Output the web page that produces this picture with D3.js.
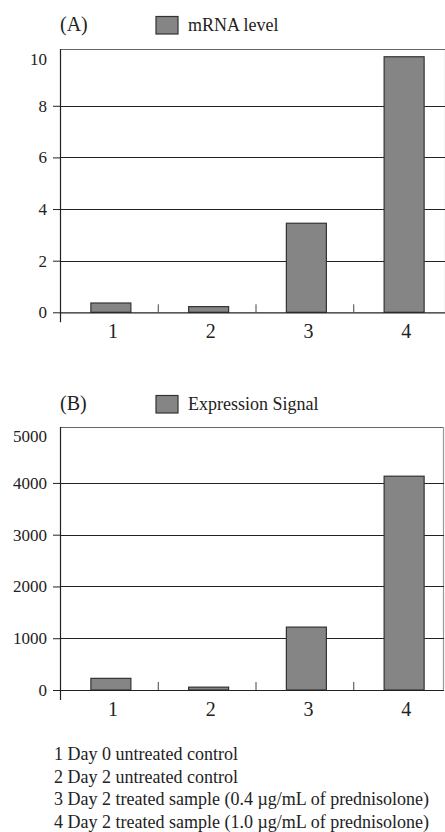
<!DOCTYPE html>
<html>
<head>
<meta charset="utf-8">
<script src="https://cdn.jsdelivr.net/npm/d3@7"></script>
<style>
  html, body { margin: 0; padding: 0; background: #fff; }
  svg { display: block; }
</style>
</head>
<body>
<svg id="chart" width="445" height="832"></svg>
<script>
// ---- data ----
const categories = ["1", "2", "3", "4"];
const mrnaValues = [0.36, 0.22, 3.45, 9.9];
const signalValues = [225, 55, 1215, 4130];
const mrnaTicks = [0, 2, 4, 6, 8, 10];
const signalTicks = [0, 1000, 2000, 3000, 4000, 5000];
const panelLabels = ["(A)", "(B)"];
const seriesNames = ["mRNA level", "Expression Signal"];
const sampleNotes = [
  "1 Day 0 untreated control",
  "2 Day 2 untreated control",
  "3 Day 2 treated sample (0.4 \u00b5g/mL of prednisolone)",
  "4 Day 2 treated sample (1.0 \u00b5g/mL of prednisolone)"
];

const FONT = "Liberation Serif";
const svg = d3.select("#chart");
const barFill = "#858585";
const barStroke = "#333";

function panel(cfg) {
  const g = svg.append("g");
  const x = d3.scaleBand().domain(categories).range([cfg.left, cfg.right]).paddingInner(0).paddingOuter(0);
  const y = d3.scaleLinear().domain([0, cfg.max]).range([cfg.bottom, cfg.top]);

  // frame top & right
  g.append("line").attr("x1", cfg.left).attr("x2", cfg.frameRight)
    .attr("y1", cfg.top + 0.5).attr("y2", cfg.top + 0.5)
    .attr("stroke", "#666").attr("stroke-width", 1.2);
  g.append("line").attr("x1", cfg.frameRight - 0.5).attr("x2", cfg.frameRight - 0.5)
    .attr("y1", cfg.top).attr("y2", y(0))
    .attr("stroke", "#999").attr("stroke-width", 1.2);

  // gridlines
  g.selectAll(".grid").data(cfg.ticks.filter(t => t > 0 && t < cfg.ticks[cfg.ticks.length - 1]))
    .enter().append("line")
    .attr("x1", cfg.left).attr("x2", cfg.frameRight)
    .attr("y1", d => Math.round(y(d)) + 0.5).attr("y2", d => Math.round(y(d)) + 0.5)
    .attr("stroke", "#222").attr("stroke-width", 1);

  // bars
  const bw = 40;
  g.selectAll(".bar").data(cfg.values).enter().append("rect")
    .attr("x", (d, i) => x.bandwidth() / 2 + x(categories[i]) - bw / 2 + 2)
    .attr("y", d => y(d))
    .attr("width", bw)
    .attr("height", d => y(0) - y(d))
    .attr("fill", barFill).attr("stroke", barStroke).attr("stroke-width", 1.2);

  // y axis
  const yAxis = d3.axisLeft(y).tickValues(cfg.ticks).tickSize(7).tickPadding(6).tickFormat(d3.format("d"));
  const ya = g.append("g").attr("transform", `translate(${cfg.left},0)`).call(yAxis);
  ya.attr("font-family", null);
  ya.select(".domain").remove();
  ya.selectAll(".tick line").attr("stroke", "#222");
  ya.selectAll(".tick").filter(d => d === cfg.ticks[cfg.ticks.length - 1]).select("line").remove();
  ya.selectAll(".tick text").attr("font-size", 17);
  ya.selectAll(".tick").filter(d => d === cfg.ticks[cfg.ticks.length - 1]).select("text")
    .attr("y", cfg.topLabelShift);

  // y axis line
  g.append("line").attr("x1", cfg.left + 0.5).attr("x2", cfg.left + 0.5)
    .attr("y1", cfg.top).attr("y2", y(0) + 10).attr("stroke", "#222").attr("stroke-width", 1.2);
  // x axis line
  g.append("line").attr("x1", cfg.left).attr("x2", cfg.frameRight)
    .attr("y1", y(0) + 0.5).attr("y2", y(0) + 0.5).attr("stroke", "#222").attr("stroke-width", 1.2);
  // category boundary ticks
  g.selectAll(".xt").data(categories.slice(1)).enter().append("line")
    .attr("x1", d => x(d) + 0.5).attr("x2", d => x(d) + 0.5)
    .attr("y1", y(0) - 8).attr("y2", y(0)).attr("stroke", "#444").attr("stroke-width", 1);

  // x labels
  g.selectAll(".xl").data(categories).enter().append("text")
    .attr("x", d => x(d) + x.bandwidth() / 2 + 4)
    .attr("y", y(0) + 26)
    .attr("text-anchor", "middle").attr("font-size", 20)
    .text(d => d);

  // panel label & legend
  g.append("text").attr("x", 60).attr("y", cfg.legendY).attr("font-size", 20).text(cfg.panelLabel);
  g.append("rect").attr("x", 156).attr("y", cfg.legendY - 14.5).attr("width", 22).attr("height", 17.5)
    .attr("fill", barFill).attr("stroke", barStroke).attr("stroke-width", 1.2);
  g.append("text").attr("x", 188).attr("y", cfg.legendY).attr("font-size", 18).text(cfg.series);
}

panel({
  left: 60, right: 451, frameRight: 446, top: 49, bottom: 312.3, max: 10.2,
  ticks: mrnaTicks, values: mrnaValues, panelLabel: panelLabels[0], series: seriesNames[0],
  legendY: 31, topLabelShift: 54.3 - 49
});
panel({
  left: 60, right: 451, frameRight: 444, top: 427, bottom: 690, max: 5080,
  ticks: signalTicks, values: signalValues, panelLabel: panelLabels[1], series: seriesNames[1],
  legendY: 410, topLabelShift: 431.6 - 427
});

// sample notes
svg.selectAll(".note").data(sampleNotes).enter().append("text")
  .attr("x", 54).attr("y", (d, i) => 760 + i * 22.5)
  .attr("font-size", 18).text(d => d);

svg.selectAll("text").attr("font-family", null).style("font-family", FONT).attr("fill", "#222");
</script>
</body>
</html>
